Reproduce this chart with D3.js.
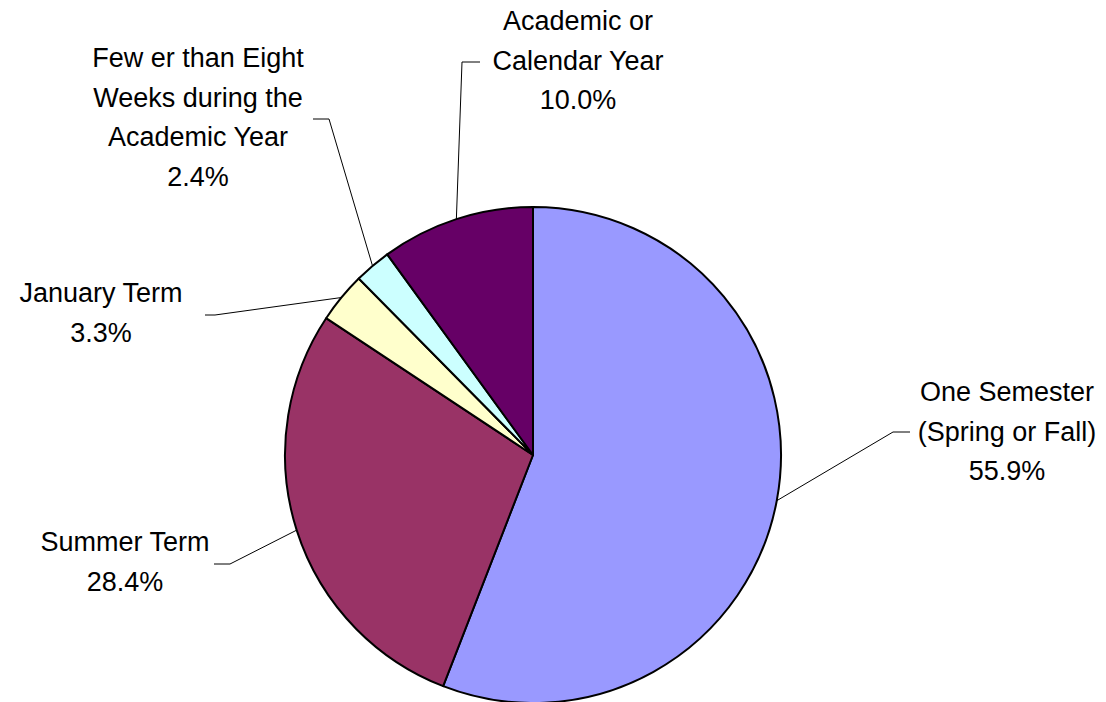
<!DOCTYPE html>
<html><head><meta charset="utf-8">
<script src="https://cdn.jsdelivr.net/npm/d3@7"></script>
<style>body{margin:0;background:#fff}svg{display:block}</style>
</head><body>
<svg id="c" width="1106" height="702"></svg>
<script>
const categories = ["One Semester (Spring or Fall)", "Summer Term", "January Term", "Fewer than Eight Weeks during the Academic Year", "Academic or Calendar Year"];
const values = [55.9, 28.4, 3.3, 2.4, 10.0];
const labelLines = [
  ["One Semester", "(Spring or Fall)", "55.9%"],
  ["Summer Term", "28.4%"],
  ["January Term", "3.3%"],
  ["Few er than Eight", "Weeks during the", "Academic Year", "2.4%"],
  ["Academic or", "Calendar Year", "10.0%"]
];
const colors = ["#9999FF", "#993366", "#FFFFCC", "#CCFFFF", "#660066"];

// layout (label block centre x, first baseline y, elbow point, stub end)
const layout = [
  {x: 1007, y: 401, elbow: [893, 432], stub: [910, 432]},
  {x: 125, y: 551, elbow: [230, 564], stub: [214, 564]},
  {x: 101, y: 302, elbow: [215, 315], stub: [205, 315]},
  {x: 198, y: 67, elbow: [329, 119], stub: [313, 119]},
  {x: 578, y: 30, elbow: [462, 62], stub: [480, 62]}
];

const cx = 533, cy = 455, R = 248;
const svg = d3.select("#c");
const g = svg.append("g").attr("transform", `translate(${cx},${cy})`);
const pie = d3.pie().sort(null).value(d => d)(values);
const arc = d3.arc().innerRadius(0).outerRadius(R);

g.selectAll("path.s").data(pie).join("path")
  .attr("class", "s")
  .attr("d", arc)
  .attr("fill", (d, i) => colors[i])
  .attr("stroke", "#000")
  .attr("stroke-width", 2)
  .attr("stroke-linejoin", "round");

pie.forEach((d, i) => {
  const a = (d.startAngle + d.endAngle) / 2;
  const px = cx + R * Math.sin(a), py = cy - R * Math.cos(a);
  const L = layout[i];
  svg.append("polyline")
    .attr("points", [[px, py], L.elbow, L.stub].map(p => p.join(",")).join(" "))
    .attr("fill", "none").attr("stroke", "#000").attr("stroke-width", 1);
  const t = svg.append("text")
    .attr("x", L.x).attr("y", L.y)
    .attr("text-anchor", "middle")
    .attr("font-family", "Liberation Sans, Arial, sans-serif")
    .attr("font-size", 27)
    .attr("fill", "#000");
  labelLines[i].forEach((ln, j) => {
    t.append("tspan").attr("x", L.x).attr("y", L.y + j * 39.5).text(ln);
  });
});
</script>
</body></html>
